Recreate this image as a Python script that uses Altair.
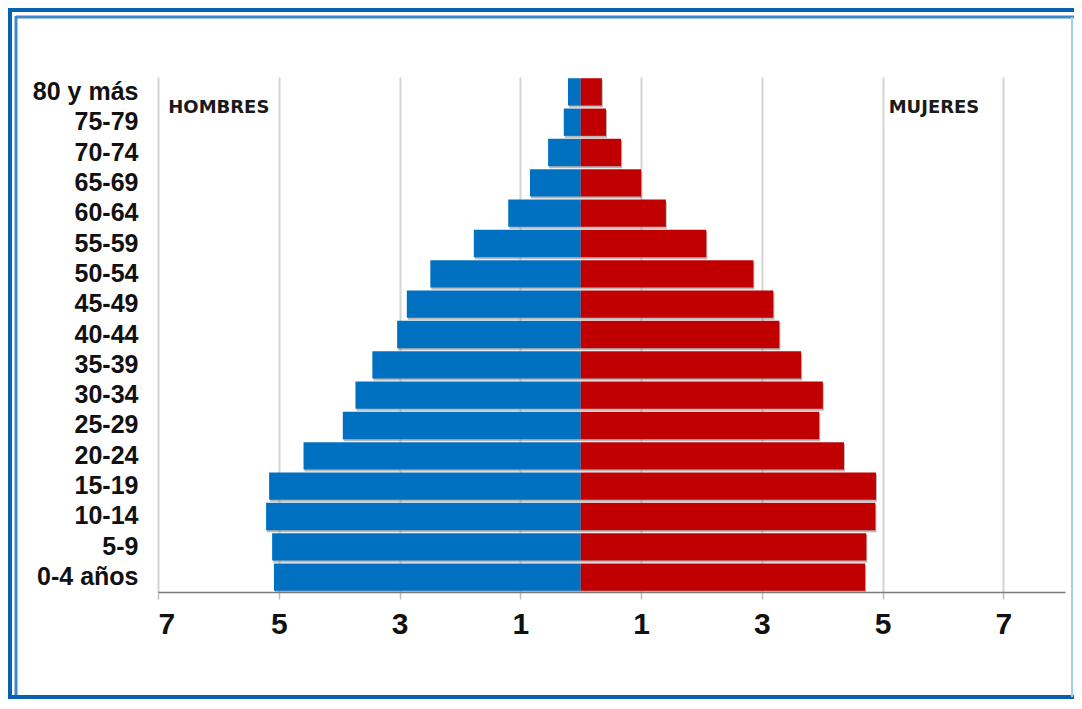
import altair as alt
import pandas as pd

grupos = ["80 y más", "75-79", "70-74", "65-69", "60-64", "55-59", "50-54", "45-49",
          "40-44", "35-39", "30-34", "25-29", "20-24", "15-19", "10-14", "5-9", "0-4 años"]
hombres = [0.21, 0.28, 0.54, 0.84, 1.20, 1.77, 2.49, 2.88, 3.04, 3.45, 3.73, 3.94, 4.59, 5.16, 5.21, 5.11, 5.08]
mujeres = [0.35, 0.42, 0.67, 1.00, 1.41, 2.08, 2.86, 3.19, 3.29, 3.65, 4.01, 3.95, 4.36, 4.89, 4.88, 4.73, 4.71]
tick_vals = [-7, -5, -3, -1, 1, 3, 5, 7]

rows = []
for g, h, m in zip(grupos, hombres, mujeres):
    rows.append({"grupo": g, "sexo": "HOMBRES", "valor": -h})
    rows.append({"grupo": g, "sexo": "MUJERES", "valor": m})
df = pd.DataFrame(rows)

FONT = "Liberation Sans Narrow, Arial Narrow, Liberation Sans, Arial"

x_scale = alt.Scale(domain=[-7, 8.02], nice=False, zero=False)
y_scale = alt.Scale(domain=grupos, paddingInner=0.1, paddingOuter=0.04)

x_enc = alt.X("valor:Q", scale=x_scale,
              axis=alt.Axis(values=tick_vals, labelExpr="abs(datum.value)", title=None,
                            grid=True, gridColor="#d4d4d4", gridWidth=2,
                            domainColor="#7a7a7a", domainWidth=1.5,
                            tickColor="#bdbdbd", tickSize=7, tickWidth=1.5,
                            labelFont=FONT, labelFontSize=30, labelFontWeight="bold",
                            labelColor="#111111", labelPadding=10))
y_enc = alt.Y("grupo:N", scale=y_scale, sort=grupos,
              axis=alt.Axis(title=None, domain=False, ticks=False, grid=False,
                            labelFont=FONT, labelFontSize=25, labelFontWeight="bold",
                            labelColor="#111111", labelPadding=20))

base = alt.Chart(df)

shadow = base.mark_bar(color="#7f7f7f", opacity=0.55, yOffset=2, xOffset=1).encode(
    x=x_enc, y=y_enc,
)

bars = base.mark_bar().encode(
    x=x_enc, y=y_enc,
    color=alt.Color("sexo:N", scale=alt.Scale(domain=["HOMBRES", "MUJERES"],
                                              range=["#0070C0", "#C00000"]), legend=None),
)

lab_df = pd.DataFrame({"txt": ["HOMBRES", "MUJERES"], "valor": [-6.83, 5.1], "grupo": ["80 y más", "80 y más"]})
labels = alt.Chart(lab_df).mark_text(align="left", baseline="middle", dy=16,
                                     font="DejaVu Sans, Liberation Sans, Arial", fontSize=18,
                                     fontWeight="bold", color="#1a1a1a").encode(
    x=x_enc, y=y_enc,
    text="txt:N",
)

# decorative window frame (outside the plot area)
frame_df = pd.DataFrame({"k": [0]})
fb = alt.Chart(frame_df)
frame = alt.layer(
    fb.mark_rule(color="#0860b0", strokeWidth=4).encode(x=alt.value(-148), y=alt.value(-68), y2=alt.value(622)),
    fb.mark_rule(color="#0860b0", strokeWidth=4).encode(x=alt.value(-150), x2=alt.value(916), y=alt.value(-67)),
    fb.mark_rule(color="#0860b0", strokeWidth=4).encode(x=alt.value(-150), x2=alt.value(916), y=alt.value(620)),
    fb.mark_rule(color="#3d88cc", strokeWidth=3).encode(x=alt.value(-142), y=alt.value(-61), y2=alt.value(618)),
    fb.mark_rule(color="#3d88cc", strokeWidth=3).encode(x=alt.value(-142), x2=alt.value(916), y=alt.value(-60)),
    fb.mark_rule(color="#9fd0f0", strokeWidth=2).encode(x=alt.value(914), y=alt.value(-60), y2=alt.value(620)),
)

chart = alt.layer(shadow, bars, labels, frame).properties(
    width=907, height=515,
    autosize=alt.AutoSizeParams(type="none"),
    padding={"left": 150, "top": 69, "right": 9, "bottom": 108},
    background="white",
).configure_view(stroke=None)

chart.save("out.html", embed_options={"renderer": "svg", "actions": False})
